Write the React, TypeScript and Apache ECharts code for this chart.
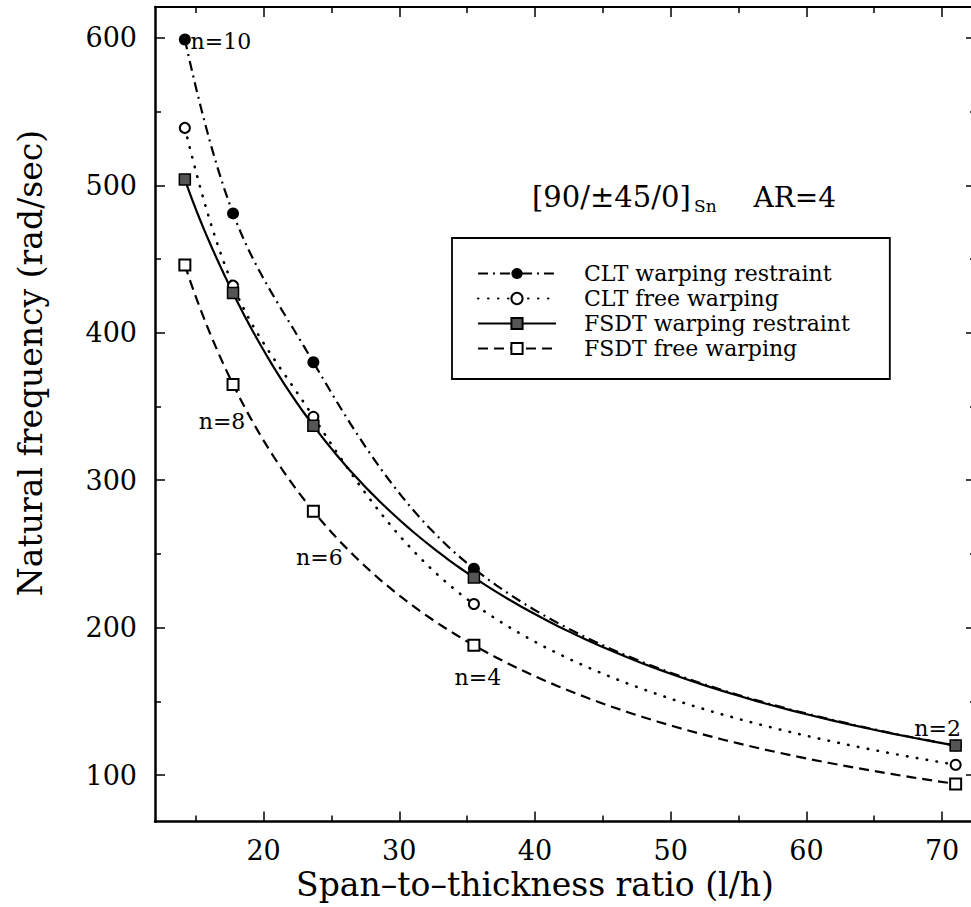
import React, { useEffect, useRef } from "react";
import * as echarts from "echarts";

// ---- data ----
const plyCounts = ["n=10", "n=8", "n=6", "n=4", "n=2"];
const spanRatio = [14.2, 17.75, 23.67, 35.5, 71];
const cltRestraint = [599, 481, 380, 240, 120];
const cltFree = [539, 432, 343, 216, 107];
const fsdtRestraint = [504, 427, 337, 234, 120];
const fsdtFree = [446, 365, 279, 188, 94];
const seriesNames = [
  "CLT warping restraint",
  "CLT free warping",
  "FSDT warping restraint",
  "FSDT free warping",
];
const xMajorTicks = [20, 30, 40, 50, 60, 70];
const xMinorTicks = [15, 25, 35, 45, 55, 65];
const yMajorTicks = [100, 200, 300, 400, 500, 600];
const yMinorTicks = [150, 250, 350, 450, 550];
// which series carries each ply-count annotation (index into plyCounts)
const annotationSeries = [0, 3, 3, 3, 2];

// ---- styling (not data) ----
const FONT = "DejaVu Serif";
const annotationOffsets: number[][] = [
  [36, 2],
  [-11, 37],
  [6, 46],
  [4, 32],
  [-18, -17],
];

function buildData(ys: number[], seriesIdx: number) {
  return spanRatio.map((x, i) => {
    const item: any = { value: [x, ys[i]] };
    if (annotationSeries[i] === seriesIdx) {
      item.label = {
        show: true,
        formatter: plyCounts[i],
        position: "inside",
        offset: annotationOffsets[i],
        fontFamily: FONT,
        fontSize: 22,
        color: "#000",
        align: "center",
        verticalAlign: "middle",
      };
    }
    return item;
  });
}

// smooth curve through the measured points (monotone cubic Hermite in log-log space)
function curveThrough(ys: number[]): number[][] {
  const lx = spanRatio.map(Math.log);
  const ly = ys.map(Math.log);
  const n = lx.length;
  const d: number[] = [];
  for (let i = 0; i < n - 1; i++) d.push((ly[i + 1] - ly[i]) / (lx[i + 1] - lx[i]));
  const m: number[] = [];
  for (let i = 0; i < n; i++) {
    if (i === 0) m.push(d[0]);
    else if (i === n - 1) m.push(d[n - 2]);
    else m.push((d[i - 1] + d[i]) / 2);
  }
  const out: number[][] = [];
  const steps = 30;
  for (let i = 0; i < n - 1; i++) {
    const h = lx[i + 1] - lx[i];
    for (let s = 0; s <= steps; s++) {
      if (i > 0 && s === 0) continue;
      const t = s / steps;
      const t2 = t * t;
      const t3 = t2 * t;
      const h00 = 2 * t3 - 3 * t2 + 1;
      const h10 = t3 - 2 * t2 + t;
      const h01 = -2 * t3 + 3 * t2;
      const h11 = t3 - t2;
      const yy = h00 * ly[i] + h10 * h * m[i] + h01 * ly[i + 1] + h11 * h * m[i + 1];
      const xx = lx[i] + t * h;
      out.push([Math.exp(xx), Math.exp(yy)]);
    }
  }
  return out;
}

const lineStyles = [
  { width: 2.2, dash: [10, 5, 2, 5], cap: "butt" },
  { width: 2.6, dash: [0.5, 9.5], cap: "round" },
  { width: 2.2, dash: null, cap: "butt" },
  { width: 2.2, dash: [10, 6], cap: "butt" },
];

export default function App() {
  const ref = useRef<HTMLDivElement>(null);
  useEffect(() => {
    if (!ref.current) return;
    const chart = echarts.init(ref.current, null, { renderer: "svg" });
    const xMin = 12;
    const xMax = 72.5;
    const yMin = 68.5;
    const yMax = 621;
    const axisBase = (extra: any) => ({
      type: "value",
      min: extra.min,
      max: extra.max,
      position: extra.position,
      splitLine: { show: false },
      axisLine: {
        show: extra.line,
        onZero: false,
        lineStyle: { color: "#000", width: extra.lineWidth || 2.5 },
      },
      axisTick: {
        show: true,
        inside: true,
        length: extra.tickLen,
        customValues: extra.ticks,
        lineStyle: { color: "#000", width: 1.5 },
      },
      axisLabel: extra.labels
        ? {
            show: true,
            customValues: extra.ticks,
            fontFamily: FONT,
            fontSize: 27,
            color: "#000",
            margin: extra.margin,
          }
        : { show: false },
    });
    const allSeries = [cltRestraint, cltFree, fsdtRestraint, fsdtFree];
    const symbolDefs = [
      { symbol: "circle", size: 12, itemStyle: { color: "#000", borderColor: "#000", borderWidth: 0 } },
      { symbol: "circle", size: 10, itemStyle: { color: "#fff", borderColor: "#000", borderWidth: 2 } },
      { symbol: "rect", size: 11, itemStyle: { color: "#555", borderColor: "#000", borderWidth: 1.5 } },
      { symbol: "rect", size: 11, itemStyle: { color: "#fff", borderColor: "#000", borderWidth: 2 } },
    ];
    const markerSeries = allSeries.map((ys, k) => ({
      name: seriesNames[k],
      type: "line",
      data: buildData(ys, k),
      symbol: symbolDefs[k].symbol,
      symbolSize: symbolDefs[k].size,
      showSymbol: true,
      itemStyle: symbolDefs[k].itemStyle,
      lineStyle: {
        color: "#000",
        width: lineStyles[k].width,
        type: lineStyles[k].dash || "solid",
        cap: lineStyles[k].cap,
        opacity: 0,
      },
      z: 10 + k,
    }));
    const curveSeries = allSeries.map((ys, k) => ({
      name: seriesNames[k],
      type: "custom",
      data: spanRatio.map((x, i) => [x, ys[i]]),
      encode: { x: 0, y: 1 },
      silent: true,
      z: 2,
      renderItem: (params: any, api: any) => {
        if (params.dataIndex !== 0) return null;
        const pts = curveThrough(ys).map((p) => api.coord(p));
        return {
          type: "polyline",
          shape: { points: pts },
          style: {
            stroke: "#000",
            fill: null,
            lineWidth: lineStyles[k].width,
            lineDash: lineStyles[k].dash,
            lineCap: lineStyles[k].cap,
          },
        };
      },
    }));
    const option: any = {
      animation: false,
      backgroundColor: "#fff",
      grid: { left: 155, top: 7, width: 821, height: 814.5, containLabel: false },
      xAxis: [
        axisBase({ min: xMin, max: xMax, position: "bottom", line: true, tickLen: 10, ticks: xMajorTicks, labels: true, margin: 15 }),
        axisBase({ min: xMin, max: xMax, position: "bottom", line: false, tickLen: 6, ticks: xMinorTicks }),
        axisBase({ min: xMin, max: xMax, position: "top", line: true, lineWidth: 2, tickLen: 10, ticks: xMajorTicks }),
        axisBase({ min: xMin, max: xMax, position: "top", line: false, tickLen: 6, ticks: xMinorTicks }),
      ],
      yAxis: [
        axisBase({ min: yMin, max: yMax, position: "left", line: true, tickLen: 10, ticks: yMajorTicks, labels: true, margin: 18 }),
        axisBase({ min: yMin, max: yMax, position: "left", line: false, tickLen: 6, ticks: yMinorTicks }),
        axisBase({ min: yMin, max: yMax, position: "right", line: true, lineWidth: 2, tickLen: 10, ticks: yMajorTicks }),
        axisBase({ min: yMin, max: yMax, position: "right", line: false, tickLen: 6, ticks: yMinorTicks }),
      ],
      legend: {
        orient: "vertical",
        left: 452,
        top: 238,
        padding: [23, 40, 18, 25],
        itemWidth: 78,
        itemHeight: 14,
        itemGap: 0,
        borderColor: "#000",
        borderWidth: 1.8,
        backgroundColor: "#fff",
        data: seriesNames,
        lineStyle: { opacity: 1 },
        textStyle: {
          fontFamily: FONT,
          fontSize: 22,
          lineHeight: 25,
          color: "#000",
          padding: [0, 0, 0, 23],
        },
      },
      graphic: [
        {
          type: "text",
          x: 532,
          y: 197,
          style: { text: "[90/±45/0]", fontFamily: FONT, fontSize: 29, fill: "#000", verticalAlign: "middle", align: "left" },
        },
        {
          type: "text",
          x: 694,
          y: 206,
          style: { text: "Sn", fontFamily: FONT, fontSize: 17, fill: "#000", verticalAlign: "middle", align: "left" },
        },
        {
          type: "text",
          x: 836,
          y: 197,
          style: { text: "AR=4", fontFamily: FONT, fontSize: 28, fill: "#000", verticalAlign: "middle", align: "right" },
        },
        {
          type: "text",
          x: 535,
          y: 884,
          style: { text: "Span–to–thickness ratio (l/h)", fontFamily: FONT, fontSize: 33, fill: "#000", align: "center", verticalAlign: "middle" },
        },
        {
          type: "text",
          x: 30,
          y: 363,
          rotation: Math.PI / 2,
          style: { text: "Natural frequency (rad/sec)", fontFamily: FONT, fontSize: 33, fill: "#000", align: "center", verticalAlign: "middle" },
        },
      ],
      series: [...markerSeries, ...curveSeries],
    };
    chart.setOption(option);
    return () => chart.dispose();
  }, []);
  return (
    <div style={{ position: "fixed", left: 0, top: 0, width: 971, height: 907, overflow: "hidden", background: "#fff" }}>
      <div ref={ref} style={{ width: 990, height: 907 }} />
    </div>
  );
}
